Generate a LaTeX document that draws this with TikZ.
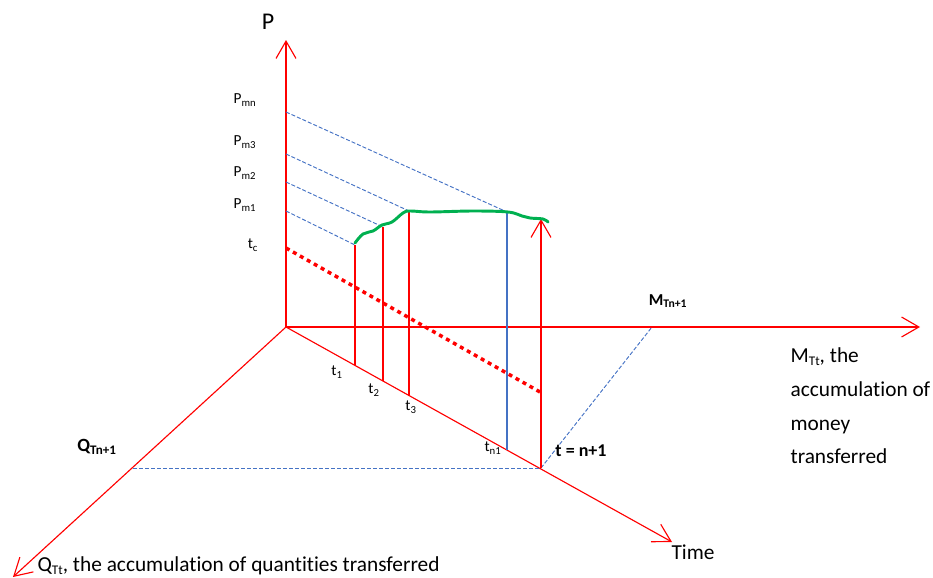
\documentclass[tikz,border=0pt]{standalone}
\usepackage{fontspec}
\setmainfont{Carlito}[Ligatures=NoCommon]
\usetikzlibrary{arrows.meta,positioning}
\definecolor{axisc}{HTML}{FF0000}
\definecolor{projc}{HTML}{4472C4}
\definecolor{pricec}{HTML}{00B050}
\newcommand{\lsub}[1]{\raisebox{-0.25ex}{\fontsize{0.62em}{1em}\selectfont #1}}

\begin{document}
\begin{tikzpicture}[x=0.75pt,y=-0.75pt,
      axis/.style={draw=axisc,line width=0.85pt,-{Straight Barb[length=13pt,width=15pt]}},
      riser/.style={draw=axisc,line width=0.85pt},
      proj/.style={draw=projc,line width=0.7pt,dash pattern=on 3pt off 1.5pt},
      lbl/.style={font=\fontsize{11.5}{13}\selectfont,inner sep=1pt},
      bigl/.style={font=\fontsize{16}{25.3}\selectfont,inner sep=1pt,align=left},
      boldl/.style={font=\fontsize{12.5}{14}\selectfont\bfseries,inner sep=1pt}]
    \useasboundingbox (0,0) rectangle (933,578);
    % axes
    \coordinate (O) at (286,327);
    \coordinate (Ptip) at (286,40);
    \coordinate (Mtip) at (920,327);
    \coordinate (Ttip) at (672,542);
    \coordinate (Qtip) at (13,577);
    \draw[axis] (O) -- (Ptip);
    \draw[axis] (O) -- (Mtip);
    \draw[axis] (O) -- (Ttip);
    \draw[axis] (O) -- (Qtip);
    % points on the time axis and their tops
    \coordinate (T1) at (355,365);   \coordinate (T1top) at (355,245);
    \coordinate (T2) at (383,381);   \coordinate (T2top) at (383,227);
    \coordinate (T3) at (409,396);   \coordinate (T3top) at (409,211);
    \coordinate (Tn1) at (507,450);  \coordinate (Tn1top) at (507,212);
    \coordinate (Tend) at (541,468); \coordinate (Tendtop) at (541,219);
    \coordinate (Qend) at (133,468);
    \coordinate (Mend) at (652,327);
    % levels on the P axis
    \coordinate (Pmn) at (286,112);
    \coordinate (Pm3) at (286,154);
    \coordinate (Pm2) at (286,182);
    \coordinate (Pm1) at (286,211);
    \coordinate (Ptc) at (286,248);
    \coordinate (Ptcend) at (540,392);
    % projections
    \draw[proj] (Pmn) -- (Tn1top);
    \draw[proj] (Pm3) -- (T3top);
    \draw[proj] (Pm2) -- (T2top);
    \draw[proj] (Pm1) -- (T1top);
    \draw[proj] (Qend) -- (Tend);
    \draw[proj] (Tend) -- (Mend);
    \draw[riser] (T1) -- (T1top);
    \draw[riser] (T2) -- (T2top);
    \draw[riser] (T3) -- (T3top);
    \draw[draw=projc,line width=1.1pt] (Tn1) -- (Tn1top);
    \draw[axis] (Tend) -- (Tendtop);
    \draw[draw=axisc,line width=2.6pt,dash pattern=on 3pt off 3pt] (Ptc) -- (Ptcend);
    % price path
    \draw[pricec,line width=2.2pt,line cap=round] plot[smooth,tension=0.6] coordinates
      {(355,243) (363,234) (373,231) (382,225) (392,222) (403,213) (410,211)
       (430,212) (473,211) (508,212) (522,216) (530,218) (543,219) (548,222)};
    % labels
    \node[font=\fontsize{18}{20}\selectfont,inner sep=1pt] (plab) at (268,22) {P};
    \node[lbl] (pmnlab) at (245,100) {P\textsubscript{mn}};
    \node[lbl] (pm3lab) at (245,142) {P\textsubscript{m3}};
    \node[lbl] (pm2lab) at (245,173) {P\textsubscript{m2}};
    \node[lbl] (pm1lab) at (245,205) {P\textsubscript{m1}};
    \node[lbl] (tclab) at (253,245) {t\textsubscript{c}};
    \node[lbl] (t1lab) at (337,372) {t\textsubscript{1}};
    \node[lbl] (t2lab) at (374,390) {t\textsubscript{2}};
    \node[lbl] (t3lab) at (411,407) {t\textsubscript{3}};
    \node[lbl] (tn1lab) at (493,448) {t\textsubscript{n1}};
    \node[boldl,font=\fontsize{13.5}{15}\selectfont\bfseries] (tendlab) at (581,451) {t = n+1};
    \node[boldl] (mendlab) at (668,301) {M\textsubscript{Tn+1}};
    \node[boldl,font=\fontsize{14}{15}\selectfont\bfseries] (qendlab) at (97,447) {Q\textsubscript{Tn+1}};
    \node[bigl,anchor=west] (mlab) at (789,406) {M\lsub{Tt}, the\\accumulation of\\money\\transferred};
    \node[bigl,anchor=west] (qlab) at (36,566) {Q\lsub{Tt}, the accumulation of quantities transferred};
    \node[bigl] (timelab) at (693,552) {Time};
  \end{tikzpicture}
\end{document}
